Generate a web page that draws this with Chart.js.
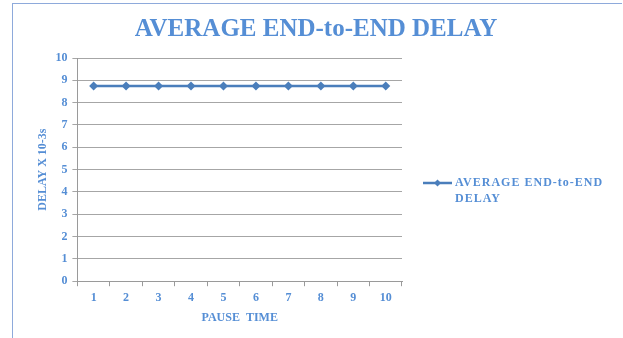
<!DOCTYPE html>
<html>
<head>
<meta charset="utf-8">
<script src="https://cdn.jsdelivr.net/npm/chart.js@4.4.0/dist/chart.umd.min.js"></script>
<style>
  html, body { margin: 0; padding: 0; background: #fff; }
  #wrap { position: relative; width: 623px; height: 338px; }
  #frame { position: absolute; left: 12px; top: 3px; width: 610px; height: 335px;
           border-top: 1.5px solid #8eaadb; border-left: 1.5px solid #8eaadb; box-sizing: border-box; }
  canvas { position: absolute; left: 0; top: 0; }
</style>
</head>
<body>
<div id="wrap">
  <div id="frame"></div>
  <canvas id="c" width="623" height="338"></canvas>
</div>
<script>
const pauseTimes = ['1', '2', '3', '4', '5', '6', '7', '8', '9', '10'];
const avgDelay = [8.75, 8.75, 8.75, 8.75, 8.75, 8.75, 8.75, 8.75, 8.75, 8.75];
const chartTitle = 'AVERAGE END-to-END DELAY';
const seriesLabel = 'AVERAGE END-to-END DELAY';
const legendLines = ['AVERAGE END-to-END', 'DELAY'];

const textBlue = '#558ED5';
const lineBlue = '#4A7EBB';
const serif = "'Liberation Serif', 'Times New Roman', serif";

// Title centred across the whole frame rather than over the plot
const frameTitle = {
  id: 'frameTitle',
  afterDraw(chart) {
    const ctx = chart.ctx;
    ctx.save();
    ctx.fillStyle = textBlue;
    ctx.font = "bold 25px " + serif;
    ctx.textAlign = 'center';
    ctx.textBaseline = 'alphabetic';
    ctx.fillText(chartTitle, 316, 36);
    ctx.restore();
  }
};

// Legend drawn beside the plot, with its text wrapped onto two lines
const sideLegend = {
  id: 'sideLegend',
  afterDraw(chart) {
    const ctx = chart.ctx;
    const ds = chart.data.datasets[0];
    const x0 = 423, x1 = 452, y = 183;
    ctx.save();
    ctx.strokeStyle = ds.borderColor;
    ctx.lineWidth = 2.5;
    ctx.beginPath(); ctx.moveTo(x0, y); ctx.lineTo(x1, y); ctx.stroke();
    const mx = (x0 + x1) / 2, r = 3.5;
    ctx.fillStyle = ds.backgroundColor;
    ctx.beginPath();
    ctx.moveTo(mx, y - r); ctx.lineTo(mx + r, y); ctx.lineTo(mx, y + r); ctx.lineTo(mx - r, y);
    ctx.closePath(); ctx.fill();
    ctx.fillStyle = textBlue;
    ctx.font = "bold 12px " + serif;
    if ('letterSpacing' in ctx) ctx.letterSpacing = '1px';
    ctx.textBaseline = 'middle';
    ctx.textAlign = 'left';
    legendLines.forEach((t, i) => ctx.fillText(t, 455, y + i * 16));
    ctx.restore();
  }
};

new Chart(document.getElementById('c'), {
  type: 'line',
  data: {
    labels: pauseTimes,
    datasets: [{
      label: seriesLabel,
      data: avgDelay,
      borderColor: lineBlue,
      backgroundColor: lineBlue,
      borderWidth: 2.5,
      pointStyle: 'rectRot',
      pointRadius: 4.5,
      pointBorderWidth: 0,
      tension: 0
    }]
  },
  options: {
    responsive: false,
    animation: false,
    devicePixelRatio: 1,
    layout: { padding: { left: 36, right: 221, top: 58, bottom: 9 } },
    plugins: {
      legend: { display: false },
      tooltip: { enabled: false },
      title: { display: false }
    },
    scales: {
      x: {
        offset: true,
        grid: { offset: true, drawOnChartArea: false, drawTicks: true, tickLength: 5, color: '#9a9a9a' },
        border: { color: '#9a9a9a', width: 1 },
        ticks: { color: textBlue, font: { family: serif, size: 12, weight: 'bold' }, padding: 5 },
        title: { display: true, text: 'PAUSE  TIME', color: textBlue,
                 font: { family: serif, size: 12, weight: 'bold' }, padding: { top: 0 } }
      },
      y: {
        min: 0, max: 10,
        ticks: { stepSize: 1, color: textBlue, font: { family: serif, size: 12, weight: 'bold' }, padding: 5 },
        grid: { color: '#a6a6a6', tickLength: 5, lineWidth: 1 },
        border: { color: '#9a9a9a', width: 1 },
        title: { display: true, text: 'DELAY X 10-3s', color: textBlue,
                 font: { family: serif, size: 12, weight: 'bold' }, padding: { top: 0, bottom: 0 } }
      }
    }
  },
  plugins: [frameTitle, sideLegend]
});
</script>
</body>
</html>
